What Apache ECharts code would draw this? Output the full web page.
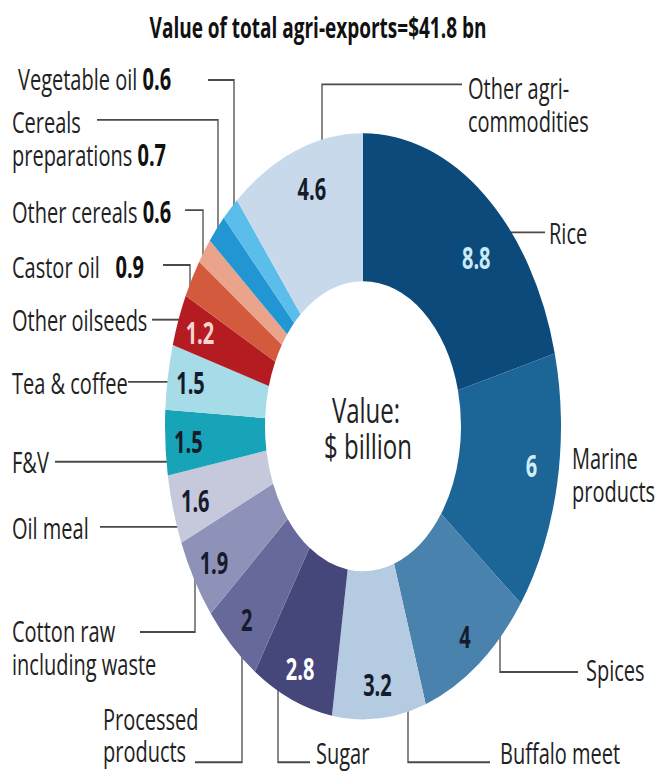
<!DOCTYPE html>
<html>
<head>
<meta charset="utf-8">
<script src="https://cdn.jsdelivr.net/npm/echarts@6.0.0/dist/echarts.min.js"></script>
<style>
  html, body { margin: 0; padding: 0; background: #fff; }
  #wrap { width: 662px; height: 774px; overflow: hidden; background: #fff; }
  /* the reference picture is stretched vertically, so draw flat and stretch */
  #main { width: 662px; height: 523px; transform: scaleY(1.48); transform-origin: 0 0; }
</style>
</head>
<body>
<div id="wrap"><div id="main"></div></div>
<script>
// data, clockwise from 12 o'clock
const categories = ['Rice', 'Marine products', 'Spices', 'Buffalo meet', 'Sugar', 'Processed products',
  'Cotton raw including waste', 'Oil meal', 'F&V', 'Tea & coffee', 'Other oilseeds', 'Castor oil',
  'Other cereals', 'Cereals preparations', 'Vegetable oil', 'Other agri-commodities'];
const values = [8.8, 6, 4, 3.2, 2.8, 2, 1.9, 1.6, 1.5, 1.5, 1.2, 0.9, 0.6, 0.7, 0.6, 4.6];
const labelNames = ['Rice', 'Marine\nproducts', 'Spices', 'Buffalo meet', 'Sugar', 'Processed\nproducts',
  'Cotton raw\nincluding waste', 'Oil meal', 'F&V', 'Tea & coffee', 'Other oilseeds', 'Castor oil  ',
  'Other cereals', 'Cereals\npreparations', 'Vegetable oil', 'Other agri-\ncommodities'];
// value written inside the ring (1) or after the name (0)
const valueInside = [1, 1, 1, 1, 1, 1, 1, 1, 1, 1, 1, 0, 0, 0, 0, 1];

const colors = ['#0c4a7b', '#1b6597', '#4882ad', '#b4cbe2', '#45467a', '#66699a', '#8f92b8', '#c6c8dc',
  '#17a3b8', '#a6dbe8', '#b51c22', '#d45a3e', '#eba48c', '#2196d3', '#5bbde9', '#c7d9ea'];
const valueColors = ['#c9eaf6', '#d2ecf6', '#151b2b', '#151b2b', '#ffffff', '#151b2b', '#151b2b', '#151b2b',
  '#151b2b', '#151b2b', '#f7d6d2', '#151b2b', '#151b2b', '#151b2b', '#151b2b', '#151b2b'];

const FONT = '"Open Sans", "Noto Sans", sans-serif';
const CX = 363, CY = 288, R0 = 98, R = 198;

// label placement (unstretched px): label x/y, leader kind, leader y, vertical x, end x
const labelPos = [
  { x: 549, y: 157, kind: 'h', ly: 157, ex: 545 },
  { x: 572, y: 320, kind: null },
  { x: 586, y: 452, kind: 'v', vx: 500, ly: 454, ex: 578 },
  { x: 500, y: 508, kind: 'v', vx: 408, ly: 515, ex: 490 },
  { x: 316, y: 508, kind: 'v', vx: 278, ly: 515, ex: 310 },
  { x: 103, y: 496, kind: 'v', vx: 242, ly: 515, ex: 195 },
  { x: 12, y: 437, kind: 'v', vx: 195, ly: 427, ex: 140 },
  { x: 12, y: 356, kind: 'h', ly: 356, ex: 100 },
  { x: 12, y: 312, kind: 'h', ly: 312, ex: 55 },
  { x: 12, y: 258, kind: 'h', ly: 258, ex: 128 },
  { x: 12, y: 216, kind: 'h', ly: 216, ex: 152 },
  { x: 12, y: 180, kind: 'v', vx: 190, ly: 179, ex: 163 },
  { x: 12, y: 143, kind: 'v', vx: 203, ly: 142, ex: 185 },
  { x: 12, y: 93, kind: 'v', vx: 218, ly: 81, ex: 97 },
  { x: 18, y: 53, kind: 'v', vx: 234, ly: 54, ex: 208 },
  { x: 468, y: 70, kind: 'v', vx: 322, ly: 57, ex: 462 }
];
// nudges for the numbers inside the ring
const valueShift = { 0: [6, 24], 1: [-3, -8], 15: [8, 4] };

function leader(p) {
  const r = R - 1;
  if (p.kind === 'h') {
    const s = p.ex > CX ? 1 : -1;
    const ax = CX + s * Math.sqrt(r * r - (p.ly - CY) * (p.ly - CY));
    return [[ax, p.ly], [(ax + p.ex) / 2, p.ly], [p.ex, p.ly]];
  }
  const s = p.ly > CY ? 1 : -1;
  const ay = CY + s * Math.sqrt(r * r - (p.vx - CX) * (p.vx - CX));
  return [[p.vx, ay], [p.vx, p.ly], [p.ex, p.ly]];
}

const ringData = categories.map((c, i) => ({
  name: c,
  value: values[i],
  itemStyle: { color: colors[i] },
  labelLine: { show: !!labelPos[i].kind }
}));

const valueData = categories.map((c, i) => ({
  name: c,
  value: values[i],
  label: { show: !!valueInside[i], color: valueColors[i] }
}));

const chart = echarts.init(document.getElementById('main'), null, { renderer: 'svg' });

const option = {
  animation: false,
  backgroundColor: '#fff',
  graphic: [
    {
      type: 'text', x: 318, y: 18,
      style: { text: 'Value of total agri-exports=$41.8 bn', align: 'center', verticalAlign: 'middle',
        font: 'bold 19px ' + FONT, fill: '#111' }
    },
    {
      type: 'text', x: 366, y: 277,
      style: { text: 'Value:', align: 'center', verticalAlign: 'middle', font: '24px ' + FONT, fill: '#222' }
    },
    {
      type: 'text', x: 368, y: 301,
      style: { text: '$ billion', align: 'center', verticalAlign: 'middle', font: '24px ' + FONT, fill: '#222' }
    }
  ],
  series: [
    {
      type: 'pie',
      center: [CX, CY],
      radius: [R0, R],
      startAngle: 90,
      clockwise: true,
      avoidLabelOverlap: false,
      silent: true,
      data: ringData,
      label: {
        show: true,
        position: 'outside',
        fontFamily: FONT,
        fontSize: 20,
        lineHeight: 22,
        color: '#222',
        formatter: p => labelNames[p.dataIndex] + (valueInside[p.dataIndex] ? '' : ' {v|' + p.value + '}'),
        rich: {
          v: { fontFamily: FONT, fontSize: 20, lineHeight: 22, fontWeight: 'bold', color: '#111' }
        }
      },
      labelLine: { show: true, lineStyle: { color: '#4a4a4a', width: 1.3 } },
      labelLayout: params => {
        const p = labelPos[params.dataIndex];
        const out = { x: p.x, y: p.y, align: 'left', verticalAlign: 'middle' };
        if (p.kind) out.labelLinePoints = leader(p);
        return out;
      }
    },
    {
      // transparent twin ring, only for the numbers placed near the outer rim
      type: 'pie',
      center: [CX, CY],
      radius: [146, R],
      startAngle: 90,
      clockwise: true,
      silent: true,
      itemStyle: { color: 'rgba(0,0,0,0)' },
      label: {
        show: true,
        position: 'inside',
        fontFamily: FONT,
        fontSize: 20,
        fontWeight: 'bold',
        formatter: '{c}'
      },
      labelLine: { show: false },
      labelLayout: params => {
        const d = valueShift[params.dataIndex];
        return d ? { dx: d[0], dy: d[1] } : {};
      },
      data: valueData
    }
  ]
};

chart.setOption(option);
</script>
</body>
</html>
